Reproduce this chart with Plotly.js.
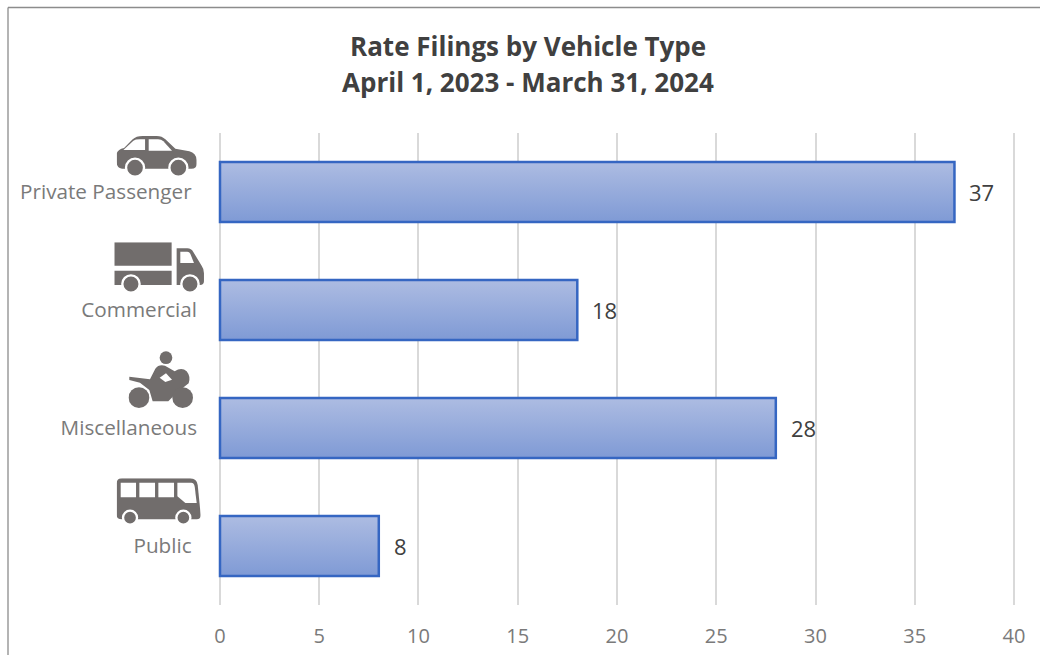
<!DOCTYPE html>
<html>
<head>
<meta charset="utf-8">
<script src="https://cdn.plot.ly/plotly-3.0.1.min.js"></script>
<style>html,body{margin:0;padding:0;background:#fff;overflow:hidden}#chart{width:1040px;height:655px}</style>
</head>
<body>
<div id="chart"></div>
<script>
const categories = ["Private Passenger", "Commercial", "Miscellaneous", "Public"];
const tickLabels = ["Private Passenger\u00a0", "Commercial", "Miscellaneous", "Public\u00a0"];
const filings = [37, 18, 28, 8];
const xTicks = [0, 5, 10, 15, 20, 25, 30, 35, 40];
const titleLine1 = "Rate Filings by Vehicle Type";
const titleLine2 = "April 1, 2023 - March 31, 2024";

const W = 1040, H = 655, L = 218, R = 24, T = 133, B = 50;
const px = x => (x - L) / (W - L - R);
const py = y => 1 - (y - T) / (H - T - B);
const INK = "#716d6c", FONT = "'Open Sans', 'Noto Sans', sans-serif";

function icon(vb, inner) {
  return "data:image/svg+xml;utf8," + encodeURIComponent(
    `<svg xmlns="http://www.w3.org/2000/svg" viewBox="${vb}" preserveAspectRatio="none">${inner}</svg>`);
}
const wheel = (cx, cy, r, s) => `<circle cx="${cx}" cy="${cy}" r="${r}" fill="${INK}" stroke="#fff" stroke-width="${s}"/>`;

const carIcon = icon("350 48 240 125",
  `<path fill="${INK}" d="M350 100Q354 88 372 84L398 58Q408 48 428 48L470 48Q486 48 496 58L526 86L568 94Q588 99 590 120L590 132Q590 146 574 146L366 146Q350 144 350 126Z"/>
   <path fill="#fff" d="M370 90L400 62Q406 58 420 58L435 58L435 90Z"/><path fill="#fff" d="M446 58L474 58Q484 58 490 64L516 92L446 92Z"/>` +
  wheel(405, 143, 27, 7) + wheel(535, 143, 27, 7));
const truckIcon = icon("343 367 270 155",
  `<path fill="${INK}" d="M343 367H515V437H343Z"/><path fill="${INK}" d="M343 452H515V495H343Z"/>
   <path fill="${INK}" d="M530 385L562 385Q574 385 580 396L605 437Q612 446 612 460L612 484Q612 495 600 495L530 495Z"/>
   <path fill="#fff" d="M541 395L562 395Q568 395 571 401L582 429L541 429Z"/>` +
  wheel(393, 492, 26, 7) + wheel(570, 492, 26, 7));
const motoIcon = icon("385 33 197 172",
  `<circle cx="498" cy="53" r="19" fill="${INK}"/>
   <path fill="${INK}" d="M388 110L450 118L466 86Q476 72 495 77L524 94Q545 80 560 94Q573 110 566 130L530 158L505 184L458 184L448 150L420 128L388 120Z"/>
   <path fill="#fff" d="M479 113L498 100L516 119L496 126Z"/>
   <circle cx="417" cy="173" r="31" fill="${INK}"/><circle cx="548" cy="173" r="31" fill="${INK}"/>`);
const busIcon = icon("350 415 252 140",
  `<path fill="${INK}" d="M366 415L570 415Q590 415 593 435L602 525Q602 538 590 538L365 538Q350 538 350 525L350 430Q350 415 366 415Z"/>
   <path fill="#fff" d="M362 428H408V472H362Z"/><path fill="#fff" d="M418 428H465V472H418Z"/><path fill="#fff" d="M475 428H522V472H475Z"/>
   <path fill="#fff" d="M532 428L574 428Q582 428 584 440L590 489L556 489L532 469Z"/>` +
  wheel(390, 533, 21, 7) + wheel(550, 533, 21, 7));

const iconBoxes = [
  [carIcon, 116.7, 136, 80, 41.7],
  [truckIcon, 114.3, 242.3, 90, 51.7],
  [motoIcon, 128.3, 351, 65.7, 57.3],
  [busIcon, 116.7, 478.3, 84, 46.7]
];
const images = iconBoxes.map(([source, x, y, w, h]) => ({
  source, xref: "paper", yref: "paper", x: px(x), y: py(y),
  sizex: w / (W - L - R), sizey: h / (H - T - B),
  xanchor: "left", yanchor: "top", sizing: "stretch", layer: "above"
}));

const borderLine = (x0, y0, x1, y1) => ({
  type: "line", xref: "paper", yref: "paper", x0: px(x0), y0: py(y0), x1: px(x1), y1: py(y1),
  line: {color: "#8c8c8c", width: 1.3}
});

const trace = {
  type: "bar", orientation: "h", y: categories, x: filings,
  marker: {color: "#94a8da", line: {color: "#3566c2", width: 2.5}},
  hoverinfo: "x+y", cliponaxis: false
};

const layout = {
  width: W, height: H, paper_bgcolor: "#fff", plot_bgcolor: "#fff", showlegend: false,
  margin: {l: L, r: R, t: T, b: B, pad: 0}, bargap: 0.49,
  font: {family: FONT, color: "#7a7a7a"},
  xaxis: {
    range: [-0.1, 40.1], tickvals: xTicks, ticktext: xTicks.map(String), showgrid: true,
    gridcolor: "#d9d9d9", gridwidth: 2, zeroline: false, showline: false, ticks: "",
    ticklabelstandoff: 17, tickfont: {size: 20, color: "#7a7a7a", family: FONT}
  },
  yaxis: {
    type: "category", categoryorder: "array", categoryarray: categories, range: [3.5, -0.5],
    tickmode: "array", tickvals: categories, ticktext: tickLabels, showgrid: false, zeroline: false,
    showline: false, ticks: "", ticklabelstandoff: 20, tickfont: {size: 20.7, color: "#7a7a7a", family: FONT}
  },
  annotations: [
    {text: titleLine1, xref: "paper", yref: "paper", x: px(528), y: py(46), xanchor: "center", yanchor: "middle",
     showarrow: false, font: {size: 26, color: "#404040", weight: 700, family: FONT}},
    {text: titleLine2, xref: "paper", yref: "paper", x: px(528), y: py(82), xanchor: "center", yanchor: "middle",
     showarrow: false, font: {size: 26, color: "#404040", weight: 700, family: FONT}}
  ].concat(filings.map((v, i) => ({
    text: String(v), x: v, y: categories[i], xref: "x", yref: "y", xanchor: "left", yanchor: "middle",
    xshift: 13, yshift: 0, showarrow: false, font: {size: 22, color: "#404040", family: FONT}
  }))),
  shapes: [borderLine(8, 7.5, 1040, 7.5), borderLine(8, 7.5, 8, 655)],
  images
};

function paintGradient(gd) {
  const svg = gd.querySelector("svg.main-svg");
  const NS = "http://www.w3.org/2000/svg";
  let grad = svg.querySelector("#barFade");
  if (!grad) {
    grad = document.createElementNS(NS, "linearGradient");
    grad.setAttribute("id", "barFade");
    grad.setAttribute("x1", "0"); grad.setAttribute("y1", "0");
    grad.setAttribute("x2", "0"); grad.setAttribute("y2", "1");
    [["0", "#adbce2"], ["1", "#7f9ad5"]].forEach(([o, c]) => {
      const s = document.createElementNS(NS, "stop");
      s.setAttribute("offset", o); s.setAttribute("stop-color", c); grad.appendChild(s);
    });
    let defs = svg.querySelector("defs");
    defs.appendChild(grad);
  }
  gd.querySelectorAll(".bars .point path").forEach(p => { p.style.fill = "url(#barFade)"; });
}

Plotly.newPlot("chart", [trace], layout, {displayModeBar: false, responsive: false}).then(gd => {
  paintGradient(gd);
  gd.on("plotly_afterplot", () => paintGradient(gd));
});
</script>
</body>
</html>
